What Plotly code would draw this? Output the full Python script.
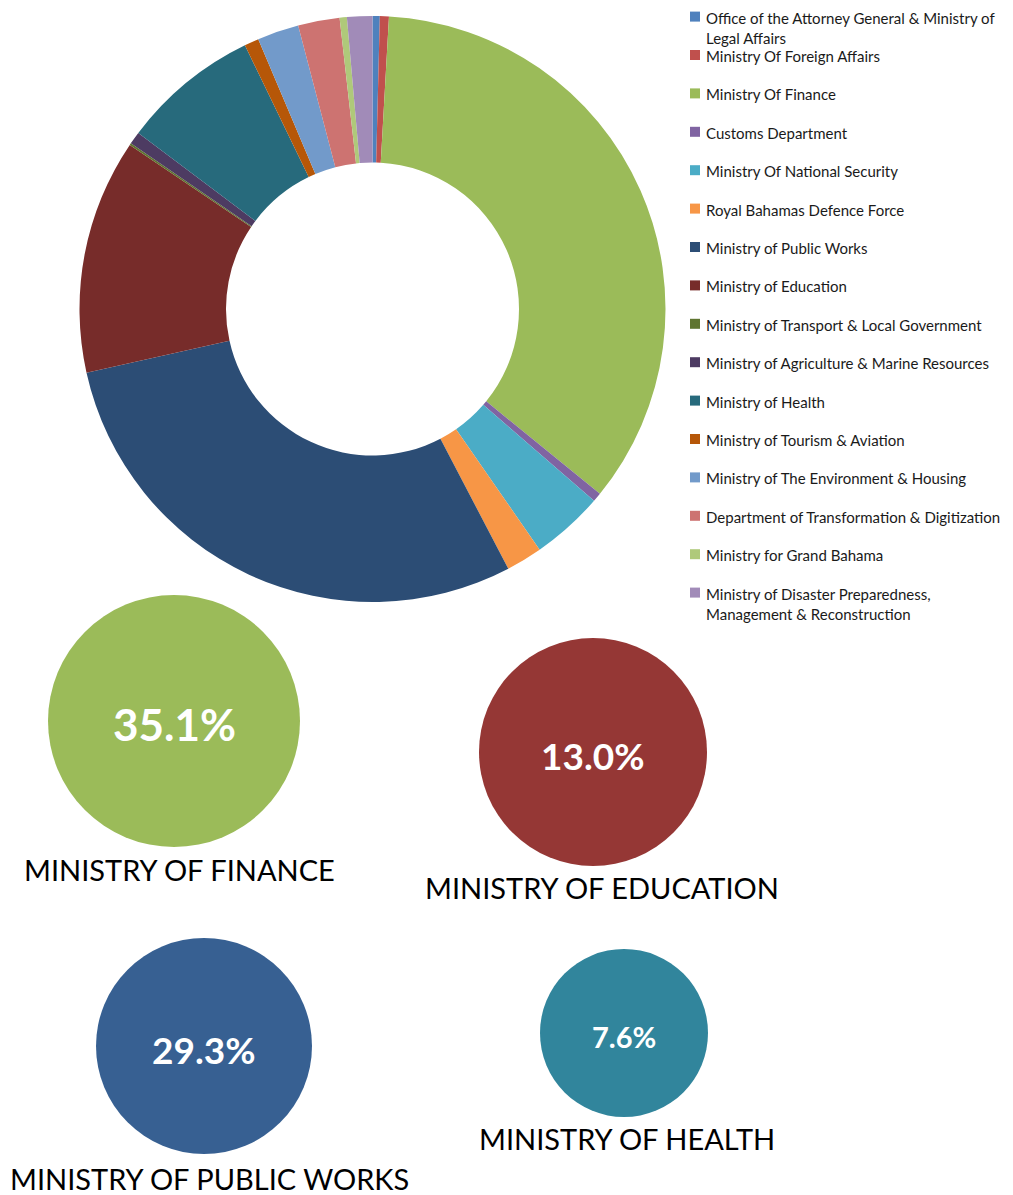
import plotly.graph_objects as go

# ---------------- data ----------------
categories = [
    "Office of the Attorney General & Ministry of<br>Legal Affairs",
    "Ministry Of Foreign Affairs",
    "Ministry Of Finance",
    "Customs Department",
    "Ministry Of National Security",
    "Royal Bahamas Defence Force",
    "Ministry of Public Works",
    "Ministry of Education",
    "Ministry of Transport & Local Government",
    "Ministry of Agriculture & Marine Resources",
    "Ministry of Health",
    "Ministry of Tourism & Aviation",
    "Ministry of The Environment & Housing",
    "Department of Transformation & Digitization",
    "Ministry for Grand Bahama",
    "Ministry of Disaster Preparedness,<br>Management & Reconstruction",
]
shares = [0.4, 0.5, 35.1, 0.5, 4.0, 2.0, 29.3, 13.0, 0.1, 0.7, 7.6, 0.8, 2.3, 2.3, 0.4, 1.4]
slice_colors = ["#4F81BD", "#C0504D", "#9BBB59", "#8064A2", "#4BACC6", "#F79646",
                "#2C4D75", "#772C2A", "#5F7530", "#4D3B62", "#276A7C", "#B65708",
                "#729ACA", "#CD7371", "#AFC97A", "#A18BB8"]

top_names = ["MINISTRY OF FINANCE", "MINISTRY OF EDUCATION",
             "MINISTRY OF PUBLIC WORKS", "MINISTRY OF HEALTH"]
top_values = [35.1, 13.0, 29.3, 7.6]
top_colors = ["#9BBB59", "#953735", "#376092", "#31859C"]

# ---------------- layout helpers ----------------
W, H = 1013, 1195
OFF = 8  # page body margin
FONT = "Lato"

def px_x(v):
    return (v - OFF) / W

def px_y(v):
    return 1 - (v - OFF) / H

fig = go.Figure()

# donut
cx, cy, r = 372.5, 309, 293
fig.add_trace(go.Pie(
    labels=categories, values=shares, sort=False, direction="clockwise",
    rotation=0, hole=0.5, textinfo="none", hoverinfo="label+percent",
    marker=dict(colors=slice_colors, line=dict(width=0)),
    domain=dict(x=[px_x(cx - r), px_x(cx + r)], y=[px_y(cy + r), px_y(cy - r)]),
    showlegend=False,
))

# custom legend
leg_x_marker, leg_x_text = 695, 704
leg_y0, leg_dy = 16.6, 38.4
leg_ys = [leg_y0 + i * leg_dy for i in range(len(categories))]
fig.add_trace(go.Scatter(
    x=[leg_x_marker] * len(categories), y=leg_ys, mode="markers",
    marker=dict(symbol="square", size=10, color=slice_colors, line=dict(width=0)),
    hoverinfo="skip", showlegend=False, cliponaxis=False,
))
annotations = []
for name, yy in zip(categories, leg_ys):
    annotations.append(dict(
        x=px_x(leg_x_text), y=px_y(yy - 10), xref="paper", yref="paper",
        text=name, showarrow=False,
        xanchor="left", yanchor="top", align="left",
        font=dict(family=FONT, size=15, color="#1a1a1a"),
    ))

# bubbles for top ministries
bub_x = [174, 593, 204, 624]
bub_y = [721, 752, 1046, 1033]
bub_d = [252, 228, 216, 168]
bub_font = [44, 37, 37, 29]
fig.add_trace(go.Scatter(
    x=bub_x, y=bub_y, mode="markers",
    marker=dict(size=bub_d, color=top_colors, line=dict(width=0), opacity=1),
    hoverinfo="skip", showlegend=False,
))
for v, bx, by, fs in zip(top_values, bub_x, bub_y, bub_font):
    annotations.append(dict(
        x=bx, y=by, xref="x", yref="y", text=f"<b>{v:.1f}%</b>", showarrow=False,
        xanchor="center", yanchor="middle", yshift=-3,
        font=dict(family=FONT, size=fs, color="white"),
    ))

lab_x = [179, 602, 209, 627]
lab_y = [869, 887, 1178, 1138]
for name, lx, ly in zip(top_names, lab_x, lab_y):
    annotations.append(dict(
        x=px_x(lx), y=px_y(ly), xref="paper", yref="paper", text=name, showarrow=False,
        xanchor="center", yanchor="middle",
        font=dict(family=FONT, size=29, color="black"),
    ))

fig.update_layout(
    width=W, height=H, margin=dict(l=0, r=0, t=0, b=0),
    paper_bgcolor="white", plot_bgcolor="rgba(0,0,0,0)",
    xaxis=dict(range=[OFF, W + OFF], visible=False, domain=[0, 1], fixedrange=True),
    yaxis=dict(range=[H + OFF, OFF], visible=False, domain=[0, 1], fixedrange=True),
    annotations=annotations,
    showlegend=False,
)

fig.write_html("out.html")
